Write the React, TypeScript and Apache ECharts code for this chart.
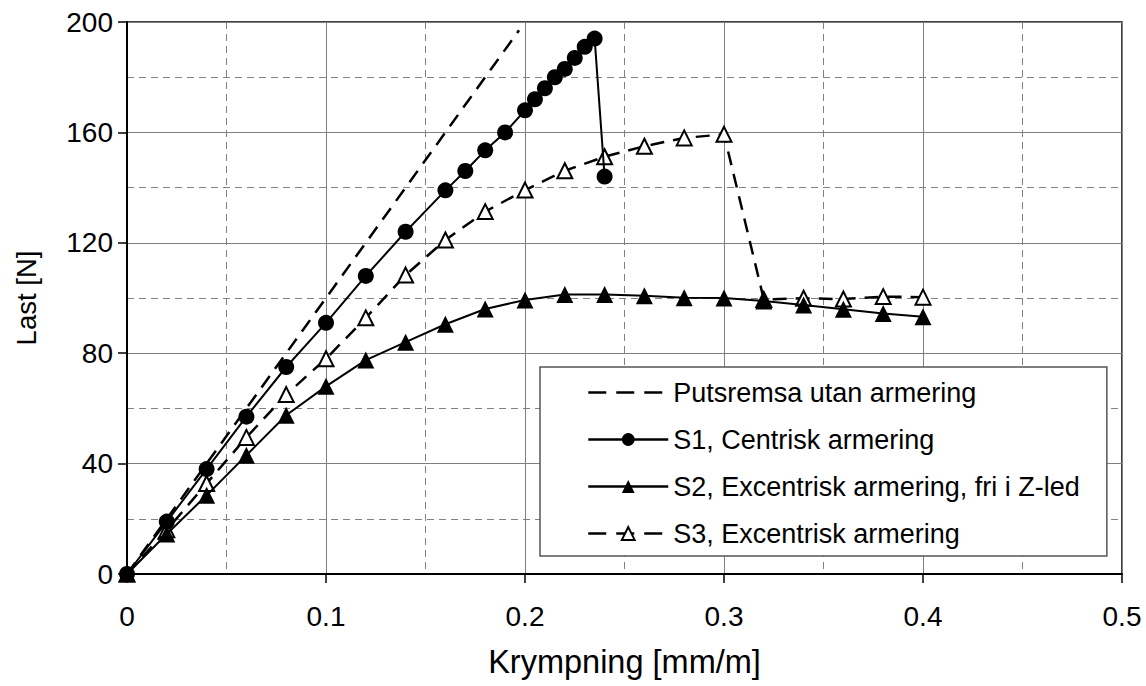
import React, { useEffect, useRef } from "react";
import * as echarts from "echarts";

const putsX = [0, 0.197];
const putsY = [0, 197];

const s1X = [0, 0.02, 0.04, 0.06, 0.08, 0.1, 0.12, 0.14, 0.16, 0.17, 0.18, 0.19, 0.2, 0.205, 0.21, 0.215, 0.22, 0.225, 0.23, 0.235, 0.24];
const s1Y = [0, 19, 38, 57, 75, 91, 108, 124, 139, 146, 153.5, 160, 168, 172, 176, 180, 183, 187, 191, 194, 144];

const s2X = [0, 0.02, 0.04, 0.06, 0.08, 0.1, 0.12, 0.14, 0.16, 0.18, 0.2, 0.22, 0.24, 0.26, 0.28, 0.3, 0.32, 0.34, 0.36, 0.38, 0.4];
const s2Y = [0, 14.5, 28.5, 43, 57.5, 68, 77.5, 84, 90.5, 96, 99.3, 101.3, 101.3, 100.8, 100.1, 100, 98.9, 97.5, 95.9, 94.4, 93.2];

const s3X = [0, 0.02, 0.04, 0.06, 0.08, 0.1, 0.12, 0.14, 0.16, 0.18, 0.2, 0.22, 0.24, 0.26, 0.28, 0.3, 0.32, 0.34, 0.36, 0.38, 0.4];
const s3Y = [0, 16, 32.8, 49.5, 65, 78, 92.8, 108.3, 121, 131.3, 139.1, 146.1, 151.2, 155, 158, 159.3, 99.5, 99.9, 99.6, 100.5, 100.3];

const xTicks = [0, 0.5, 0.1];
const yTicks = [0, 200, 40];

const seriesNames = [
  "Putsremsa utan armering",
  "S1, Centrisk armering",
  "S2, Excentrisk armering, fri i Z-led",
  "S3, Excentrisk armering",
];

const pairs = (xs: number[], ys: number[]) => xs.map((x, i) => [x, ys[i]]);

const FONT = "'Liberation Sans', Arial, sans-serif";

export default function App() {
  const ref = useRef<HTMLDivElement>(null);
  useEffect(() => {
    if (!ref.current) return;
    const chart = echarts.init(ref.current, undefined, { renderer: "svg" });
    const axisCommon = {
      axisLine: { show: true, lineStyle: { color: "#000", width: 2 } },
      axisTick: { show: true, length: 9, lineStyle: { color: "#000", width: 1.5 } },
      splitLine: { show: true, lineStyle: { color: "#808080", width: 1 } },
      minorTick: { show: false, splitNumber: 2 },
      minorSplitLine: { show: true, lineStyle: { color: "#808080", width: 1, type: [7, 5] } },
    };
    chart.setOption({
      animation: false,
      backgroundColor: "#fff",
      grid: { left: 127, top: 22, right: 24, bottom: 112, show: true, borderColor: "#000", borderWidth: 1.5 },
      xAxis: {
        type: "value",
        min: xTicks[0],
        max: xTicks[1],
        interval: xTicks[2],
        name: "Krympning [mm/m]",
        nameLocation: "middle",
        nameGap: 71,
        nameTextStyle: { color: "#000", fontSize: 32.5, fontFamily: FONT },
        ...axisCommon,
        axisLabel: { color: "#000", fontSize: 28, fontFamily: FONT, margin: 28 },
      },
      yAxis: {
        type: "value",
        min: yTicks[0],
        max: yTicks[1],
        interval: yTicks[2],
        name: "Last [N]",
        nameLocation: "middle",
        nameGap: 87,
        nameTextStyle: { color: "#000", fontSize: 27.5, fontFamily: FONT },
        ...axisCommon,
        axisLabel: { color: "#000", fontSize: 28, fontFamily: FONT, margin: 14 },
      },
      legend: {
        orient: "vertical",
        left: 540,
        top: 367,
        data: [
          {
            name: seriesNames[0],
            itemStyle: { color: "rgba(0,0,0,0)", borderWidth: 0 },
            lineStyle: { type: [18, 10], width: 2.5 },
          },
          { name: seriesNames[1], lineStyle: { width: 2.5 } },
          { name: seriesNames[2], lineStyle: { width: 2.5 } },
          { name: seriesNames[3], lineStyle: { type: [18, 10], width: 2.5 } },
        ],
        itemWidth: 80,
        itemHeight: 16,
        itemGap: 20,
        padding: [12, 27, 9, 47],
        borderColor: "#555",
        borderWidth: 1.5,
        backgroundColor: "#fff",
        borderRadius: 0,
        textStyle: { color: "#000", fontSize: 27, fontFamily: FONT },
      },
      series: [
        {
          name: seriesNames[0],
          type: "line",
          data: pairs(putsX, putsY),
          symbol: "none",
          lineStyle: { color: "#000", width: 2.5, type: [14, 9] },
          itemStyle: { color: "#000" },
          z: 2,
        },
        {
          name: seriesNames[1],
          type: "line",
          data: pairs(s1X, s1Y),
          symbol: "circle",
          symbolSize: 16,
          lineStyle: { color: "#000", width: 2 },
          itemStyle: { color: "#000" },
          z: 5,
        },
        {
          name: seriesNames[2],
          type: "line",
          data: pairs(s2X, s2Y),
          symbol: "triangle",
          symbolSize: 17,
          lineStyle: { color: "#000", width: 2 },
          itemStyle: { color: "#000" },
          z: 4,
        },
        {
          name: seriesNames[3],
          type: "line",
          data: pairs(s3X, s3Y),
          symbol: "triangle",
          symbolSize: 15,
          lineStyle: { color: "#000", width: 2.5, type: [14, 9] },
          itemStyle: { color: "#fff", borderColor: "#000", borderWidth: 2 },
          z: 3,
        },
      ],
    });
    return () => chart.dispose();
  }, []);
  return (
    <div
      ref={ref}
      style={{ position: "absolute", left: 0, top: 0, width: 1146, height: 686 }}
    />
  );
}
